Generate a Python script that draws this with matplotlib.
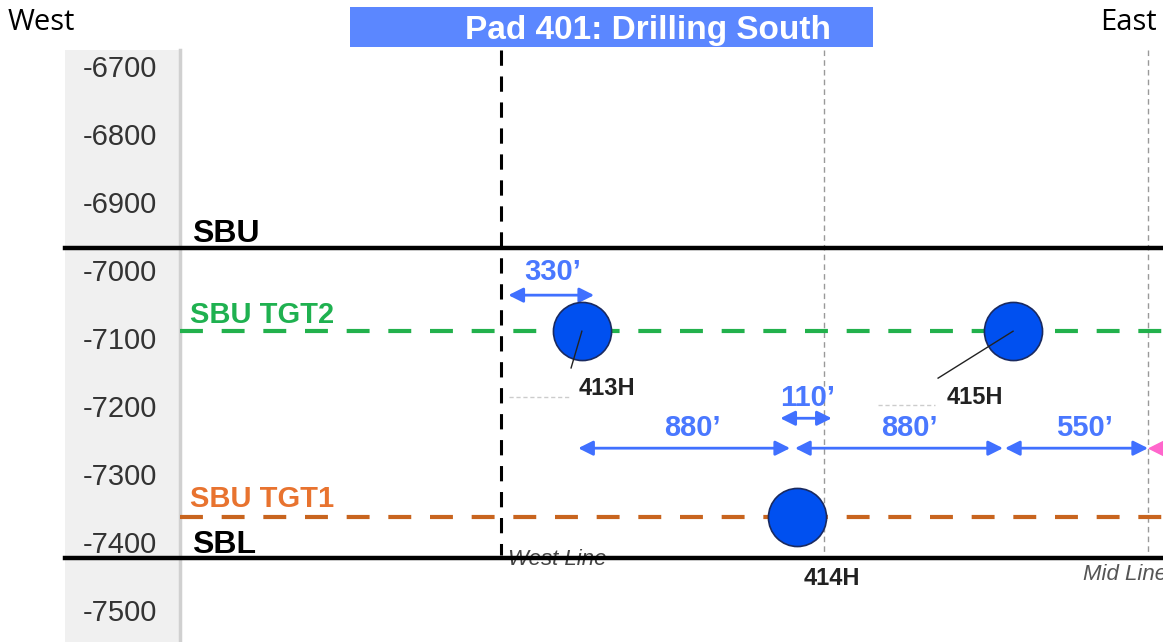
import matplotlib.pyplot as plt
from matplotlib.patches import Rectangle

# depth axis (ft, subsea) and horizontal position (ft east of West Line)
depth_ticks = [-6700, -6800, -6900, -7000, -7100, -7200, -7300, -7400, -7500]

horizon_names = ["SBU", "SBL"]
horizon_depth = [-6968, -7424]
horizon_label_depth = [-6959, -7416]

target_names = ["SBU TGT2", "SBU TGT1"]
target_depth = [-7090, -7363]
target_label_depth = [-7078, -7349]

well_names = ["413H", "414H", "415H"]
well_x = [330, 1210, 2090]
well_depth = [-7090, -7363, -7090]
well_label_x = [433, 1351, 1935]
well_label_depth = [-7174, -7453, -7188]

section_names = ["West Line", "", "Mid Line"]
section_x = [0, 1320, 2640]

spacing_labels = ["330\u2019", "880\u2019", "110\u2019", "880\u2019", "550\u2019"]
spacing_start = [30, 315, 1140, 1200, 2057]
spacing_end = [380, 1180, 1350, 2049, 2641]
spacing_depth = [-7037, -7262, -7218, -7262, -7262]
spacing_label_x = [212, 780, 1253, 1669, 2380]
spacing_label_depth = [-7003, -7232, -7188, -7232, -7232]

# figure: 1163x642 px, one axes over the whole canvas
fig = plt.figure(figsize=(11.63, 6.42), dpi=100)
ax = fig.add_axes([0, 0, 1, 1])
ax.set_xlim(-2045, 2702)
ax.set_ylim(-7547, -6603)
ax.axis("off")

top = -6676.5
strip_l, strip_r = -1780, -1310

# grey tick strip
ax.add_patch(Rectangle((strip_l, -7547), strip_r - strip_l, top + 7547,
                       facecolor="#f0f0f0", edgecolor="none", zorder=0))
ax.plot([strip_r, strip_r], [-7547, top], color="#d0d0d0", lw=2.5, zorder=1)
for d in depth_ticks:
    ax.text(-1404, d, str(d), ha="right", va="center_baseline", fontsize=21,
            family="Liberation Sans", color="#333333")

# section lines
ax.plot([section_x[0]] * 2, [top, -7419], color="black", lw=2.2,
        dashes=(5, 3.5), zorder=2)
ax.text(section_x[0] + 30, -7410, section_names[0], ha="left", va="top",
        fontsize=16, style="italic", family="Liberation Sans", color="#444444",
        zorder=2)
for x in section_x[1:]:
    ax.plot([x, x], [top, -7425], color="#999999", lw=1, dashes=(4, 3), zorder=2)
ax.text(2376, -7432, section_names[2], ha="left", va="top", fontsize=16,
        style="italic", family="Liberation Sans", color="#555555")

# horizons
for name, d, ld in zip(horizon_names, horizon_depth, horizon_label_depth):
    ax.plot([strip_l, 2702], [d, d], color="black", lw=3.2, zorder=3)
    ax.text(-1261, ld, name, ha="left", va="baseline", fontsize=23,
            fontweight="bold", family="Liberation Sans", color="black")

# target landing lines
target_colors = ["#22b14c", "#c8641e"]
target_text_colors = ["#1fb150", "#e8732f"]
for name, d, ld, c, tc in zip(target_names, target_depth, target_label_depth,
                              target_colors, target_text_colors):
    ax.plot([strip_r, 2702], [d, d], color=c, lw=3, dashes=(5.5, 4.5), zorder=2)
    ax.text(-1269, ld, name, ha="left", va="baseline", fontsize=21,
            fontweight="bold", family="Liberation Sans", color=tc)

# faint leftover boxes near labels
ax.plot([33, 282], [-7187, -7187], color="#cccccc", lw=1, dashes=(3, 2))
ax.plot([1539, 1771], [-7199, -7199], color="#cccccc", lw=1, dashes=(3, 2))

# wells
ax.scatter(well_x, well_depth, s=1750, color="#0050f0", edgecolor="#1a2a60",
           lw=1.2, zorder=5)
ax.plot([well_x[0], 286], [well_depth[0], -7144], color="#222222", lw=1, zorder=6)
ax.plot([well_x[2], 1784], [well_depth[2], -7159], color="#222222", lw=1, zorder=6)
for name, x, d in zip(well_names, well_label_x, well_label_depth):
    ax.text(x, d, name, ha="center", va="center", fontsize=17,
            fontweight="bold", family="Liberation Sans", color="#222222")

# spacing arrows
for lab, x0, x1, d, lx, ld in zip(spacing_labels, spacing_start, spacing_end,
                                  spacing_depth, spacing_label_x, spacing_label_depth):
    ax.annotate("", xy=(x1, d), xytext=(x0, d),
                arrowprops=dict(arrowstyle="<|-|>", color="#4070ff", lw=2,
                                mutation_scale=22, shrinkA=0, shrinkB=0),
                zorder=4)
    ax.text(lx, ld, lab, ha="center", va="center", fontsize=21,
            fontweight="bold", family="Liberation Sans", color="#4a78ff")
ax.scatter([2676], [-7262], marker="<", s=140, color="#ff66cc", zorder=4)

# title bar and side labels
fig.patches.append(Rectangle((350 / 1163, 1 - 47 / 642), 523 / 1163, 40 / 642,
                             transform=fig.transFigure, facecolor="#5b87ff",
                             edgecolor="none", zorder=0))
fig.text(648 / 1163, 1 - 30 / 642, "Pad 401: Drilling South", ha="center",
         va="center", fontsize=24, fontweight="bold", family="Liberation Sans",
         color="white")
fig.text(8 / 1163, 1 - 23 / 642, "West", ha="left", va="center", fontsize=21,
         family="Open Sans", color="black")
fig.text(1157 / 1163, 1 - 23 / 642, "East", ha="right", va="center", fontsize=21,
         family="Open Sans", color="black")

fig.savefig("out.png", dpi=100)
